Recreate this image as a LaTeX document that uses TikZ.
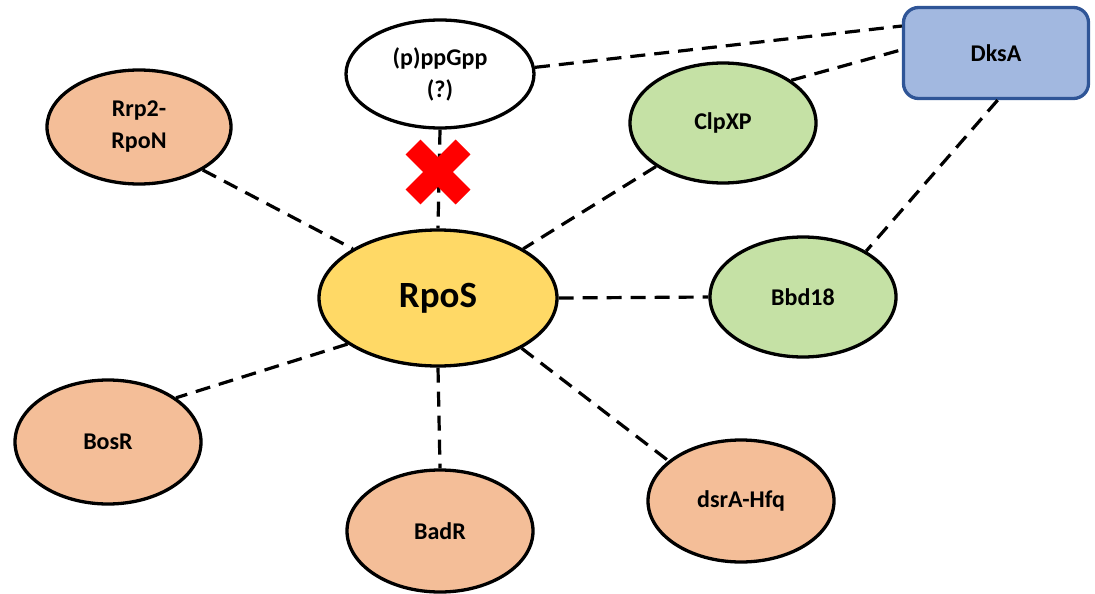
\documentclass[tikz,border=0pt]{standalone}
\usepackage{fontspec}
\setmainfont{Carlito}
\usetikzlibrary{shapes.geometric}
\definecolor{peach}{HTML}{F4BE98}
\definecolor{lgreen}{HTML}{C5E1A5}
\definecolor{yel}{HTML}{FFD966}
\definecolor{lblue}{HTML}{A2B8E0}
\definecolor{dblue}{HTML}{2F5597}
\tikzset{
  ell/.style={ellipse, draw=black, line width=3.3pt, inner sep=0pt, font=\fontsize{24}{32}\selectfont\bfseries, align=center},
  orange/.style={ell, fill=peach},
  greenell/.style={ell, fill=lgreen},
  link/.style={line width=3.2pt, dash pattern=on 15pt off 9pt},
}
\begin{document}
\begin{tikzpicture}[x=1pt,y=-1pt]
\useasboundingbox (0,0) rectangle (1095,594);
\node[ell, fill=white, minimum width=188pt, minimum height=108pt] (ppg) at (440,74) {(p)ppGpp\\(?)};
\node[draw=dblue, fill=lblue, line width=3.3pt, rounded corners=15pt, minimum width=185pt, minimum height=91pt, inner sep=0pt, font=\fontsize{24}{28}\selectfont\bfseries] (dksa) at (996,53) {DksA};
\node[orange, minimum width=184pt, minimum height=114pt] (rrp) at (139,127) {Rrp2-\\RpoN};
\node[greenell, minimum width=186pt, minimum height=120pt] (clp) at (723,123) {ClpXP};
\node[ell, fill=yel, minimum width=238pt, minimum height=136pt, font=\fontsize{37}{42}\selectfont\bfseries] (rpos) at (438,298) {RpoS};
\node[greenell, minimum width=186pt, minimum height=120pt] (bbd) at (803,297) {Bbd18};
\node[orange, minimum width=186pt, minimum height=124pt] (bosr) at (108,442) {BosR};
\node[orange, minimum width=186pt, minimum height=122pt] (badr) at (440,531) {BadR};
\node[orange, minimum width=186pt, minimum height=122pt] (dsra) at (741,501) {dsrA-Hfq};

\draw[link] (ppg.4) -- (dksa.164);
\draw[link] (clp.32) -- (dksa.178);
\draw[link] (dksa.-88) -- (bbd.36);
\draw[link] (ppg.south) -- (rpos.north);
\draw[link] (rrp.-34) -- (rpos.150);
\draw[link] (clp.213) -- (rpos.30);
\draw[link] (rpos.east) -- (bbd.west);
\draw[link] (rpos.207) -- (bosr.33);
\draw[link] (rpos.south) -- (badr.north);
\draw[link] (rpos.-31) -- (dsra.151);

\coordinate (xc) at (438,172);
\draw[red, line width=21pt] ([shift={(-25,-25)}]xc) -- ([shift={(25,25)}]xc);
\draw[red, line width=21pt] ([shift={(-25,25)}]xc) -- ([shift={(25,-25)}]xc);
\end{tikzpicture}
\end{document}
